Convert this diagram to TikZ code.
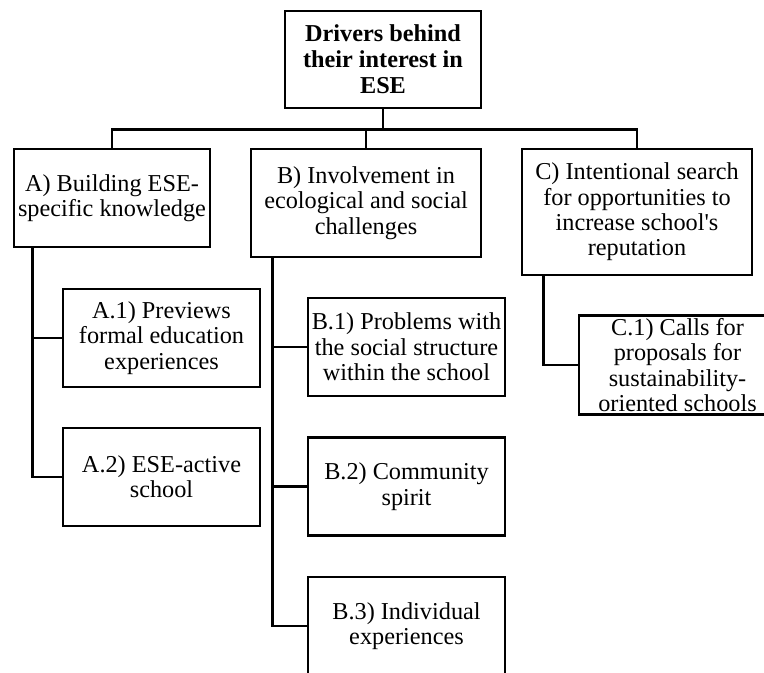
\documentclass[tikz,border=0pt]{standalone}
\usepackage{fontspec}
\setmainfont{Liberation Serif}
\usepackage{tikz}
\usetikzlibrary{calc}
\tikzset{
  box/.style={draw=black, line width=2pt, align=center, inner sep=2pt,
    font=\fontsize{18.2}{19}\selectfont},
  topbox/.style={box, minimum width=147pt, minimum height=72.75pt, font=\fontsize{18.2}{19.5}\selectfont\bfseries},
  subbox/.style={box, minimum width=147.75pt, minimum height=73.5pt},
  link/.style={draw=black, line width=2pt}
}

\begin{document}
\begin{tikzpicture}[x=0.75pt, y=-0.75pt]
  \useasboundingbox (0,0) rectangle (764,673);
  \clip (0,0) rectangle (764,673);

  % root and first level
  \node[topbox] (root) at (383,59.5) {Drivers behind\\their interest in\\ESE};
  \node[box, minimum width=147pt, minimum height=73.5pt] (a) at (112,198) {A) Building ESE-\\specific knowledge};
  \node[box, minimum width=172.5pt, minimum height=81pt] (b) at (366,203) {B) Involvement in\\ecological and social\\challenges};
  \node[box, minimum width=172.5pt, minimum height=94.5pt] (c) at (637,212) {C) Intentional search\\for opportunities to\\increase school\textquotesingle s\\reputation};

  \draw[link] (root.south) -- ++(0,20) coordinate (hub);
  \draw[link] (a.north) |- (hub) -| (c.north);
  \draw[link] (b.north) -- (b.north |- hub);

  % second level
  \node[subbox] (a1) at (161.5,338) {A.1) Previews\\formal education\\experiences};
  \node[subbox] (a2) at (161.5,477) {A.2) ESE-active\\school};
  \node[subbox] (b1) at (406.5,347) {B.1) Problems with\\the social structure\\within the school};
  \node[subbox] (b2) at (406.5,486.5) {B.2) Community\\spirit};
  \node[subbox] (b3) at (406.5,626) {B.3) Individual\\experiences};
  \node[subbox] (c1) at (677.5,365) {C.1) Calls for\\proposals for\\sustainability-\\oriented schools};

  % trunks
  \coordinate (atrunk) at ([xshift=15pt]a.south west);
  \coordinate (btrunk) at ([xshift=17.25pt]b.south west);
  \coordinate (ctrunk) at ([xshift=17.25pt]c.south west);

  \draw[link] (atrunk) |- (a2.west);
  \draw[link] (a1.west) -- (a1.west -| atrunk);
  \draw[link] (btrunk) |- (b3.west);
  \draw[link] (b1.west) -- (b1.west -| btrunk);
  \draw[link] (b2.west) -- (b2.west -| btrunk);
  \draw[link] (ctrunk) |- (c1.west);
\end{tikzpicture}
\end{document}
